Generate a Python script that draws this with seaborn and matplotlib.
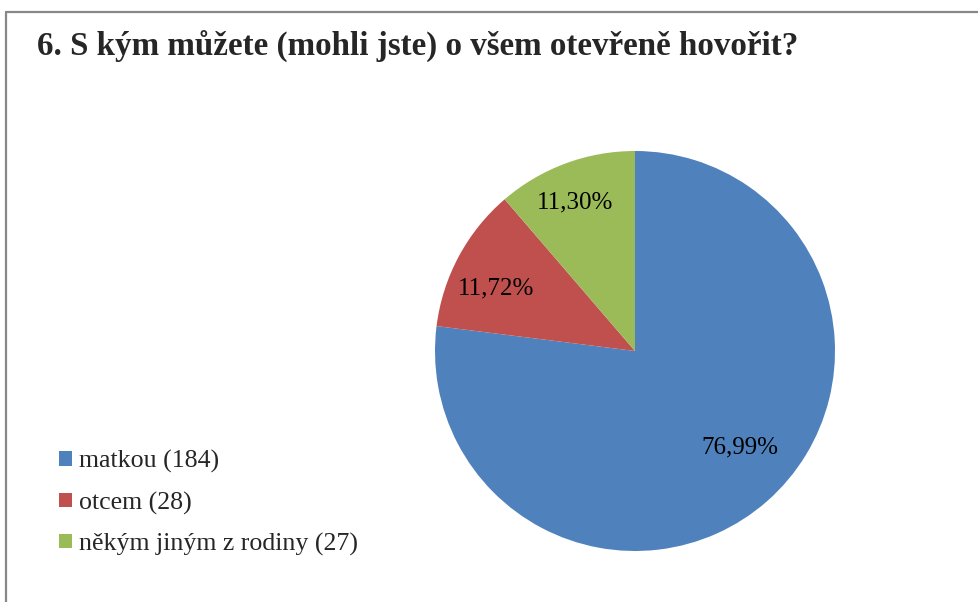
import matplotlib
matplotlib.use("Agg")
import numpy as np
import matplotlib.pyplot as plt
import seaborn as sns
from matplotlib.patches import Patch
from matplotlib.lines import Line2D

# data
categories = ["matkou", "otcem", "někým jiným z rodiny"]
counts = [184, 28, 27]
colors = ["#4F81BD", "#C0504D", "#9BBB59"]
title = "6. S kým můžete (mohli jste) o všem otevřeně hovořit?"

sns.set_theme(style="white")
plt.rcParams["font.family"] = ["Liberation Serif", "DejaVu Serif"]

fig = plt.figure(figsize=(9.79, 6.02), dpi=100)
W, H = 979, 602

# pie axes: centre (635, 351), radius 200 px
ax = fig.add_axes([435 / W, (H - 551) / H, 400 / W, 400 / H])
wedges, texts, autotexts = ax.pie(
    counts,
    colors=colors,
    startangle=90,
    counterclock=False,
    autopct=lambda p: f"{p:.2f}%".replace(".", ","),
    pctdistance=0.75,
    textprops={"fontsize": 18, "color": "black"},
    wedgeprops={"linewidth": 0},
)
ax.set_xlim(-1, 1)
ax.set_ylim(-1, 1)
ax.set_aspect("equal")

# label placement roughly like the original (slightly off the mid-angle)
label_dist = [0.71, 0.76, 0.80]
label_shift = [6, 4, 1.5]  # degrees
for w, t, d, s in zip(wedges, autotexts, label_dist, label_shift):
    ang = np.deg2rad((w.theta1 + w.theta2) / 2 + s)
    t.set_position((d * np.cos(ang), d * np.sin(ang)))

fig.text(37 / W, 1 - 46 / H, title, fontsize=23.8, fontweight="bold",
         va="center", ha="left")

handles = [Patch(facecolor=c, edgecolor="none") for c in colors]
labels = [f"{c} ({n})" for c, n in zip(categories, counts)]
fig.legend(handles, labels, loc="upper left",
           bbox_to_anchor=(36 / W, 1 - 427 / H), frameon=False,
           fontsize=18.6, handlelength=0.5, handleheight=0.5,
           handletextpad=0.25, labelspacing=0.7)

# chart frame (top and left edges visible)
fig.add_artist(Line2D([6 / W, 1], [1 - 12 / H, 1 - 12 / H],
                      transform=fig.transFigure, color="#878787", lw=1.6))
fig.add_artist(Line2D([6 / W, 6 / W], [0, 1 - 12 / H],
                      transform=fig.transFigure, color="#878787", lw=1.6))

fig.savefig("out.png", dpi=100)
